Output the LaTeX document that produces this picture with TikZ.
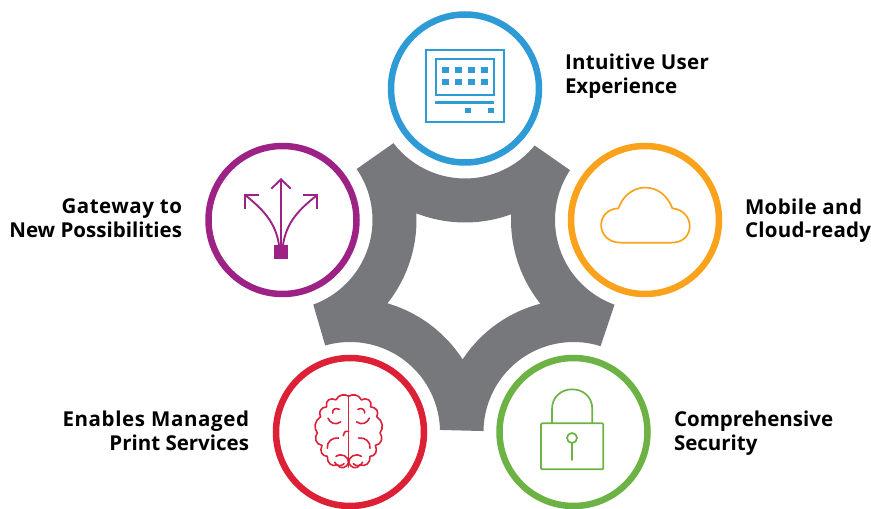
\documentclass[tikz,border=0pt]{standalone}
\usepackage{fontspec}
\usetikzlibrary{calc}
\setmainfont{Open Sans}
\definecolor{ringblue}{HTML}{2E9AD6}
\definecolor{ringorange}{HTML}{FAA21B}
\definecolor{ringgreen}{HTML}{6CB244}
\definecolor{ringred}{HTML}{DC2035}
\definecolor{ringpurple}{HTML}{9C2385}
\definecolor{hubgray}{HTML}{77787B}
\newcommand{\wider}[1]{\addfontfeature{LetterSpace=#1}}
\tikzset{
  ring/.style={circle,draw=#1,line width=6.5pt,minimum size=148pt,inner sep=0pt,outer sep=0pt},
  caption/.style={font=\fontsize{20.5}{24}\selectfont\bfseries,text=black,inner sep=0pt,outer sep=0pt},
  icon/.style={line width=1.7pt,line cap=round,line join=round},
  brainline/.style={line width=1.6pt,line cap=round,line join=round,draw=ringred},
}
\newcommand{\halfbrain}{%
  \draw[brainline]
   (116,18) .. controls (105,12) and (86,12) .. (78,28)
   .. controls (62,20) and (44,30) .. (50,47)
   .. controls (32,48) and (24,62) .. (32,74)
   .. controls (14,84) and (10,105) .. (22,118)
   .. controls (12,130) and (16,150) .. (36,152)
   .. controls (28,168) and (36,182) .. (52,182)
   .. controls (50,200) and (66,212) .. (82,205)
   .. controls (90,218) and (112,216) .. (116,196);
  \draw[brainline] (88,54) .. controls (78,48) and (66,54) .. (68,64);
  \draw[brainline] (54,78) .. controls (60,92) and (78,98) .. (92,88);
  \draw[brainline] (52,160) .. controls (50,142) and (66,130) .. (86,132);
  \draw[brainline] (78,182) .. controls (96,172) and (114,182) .. (116,198);
  \draw[brainline] (74,198) .. controls (80,210) and (94,210) .. (102,202);
}
\begin{document}
\begin{tikzpicture}[x=1pt,y=1pt]
\useasboundingbox (0,0) rectangle (871,509);
% centres
\coordinate (cb) at (465,420.5);
\coordinate (co) at (645,289);
\coordinate (cg) at (573.5,77);
\coordinate (cr) at (350,77);
\coordinate (cp) at (282.5,289);
% hub
\fill[hubgray,even odd rule]
  ($(cb)+(217.4:90)$) arc[start angle=217.4,end angle=320.7,radius=90]
  -- ($(co)+(146.4:90)$) arc[start angle=146.4,end angle=250.2,radius=90]
  -- ($(cg)+(72.5:90)$) arc[start angle=72.5,end angle=179.4,radius=90]
  -- ($(cr)+(1.3:90)$) arc[start angle=1.3,end angle=106,radius=90]
  -- ($(cp)+(-70:90)$) arc[start angle=-70,end angle=34.5,radius=90]
  -- cycle
  ($(cb)+(248.8:134)$) arc[start angle=248.8,end angle=290.1,radius=134]
  -- ($(co)+(177.6:134)$) arc[start angle=177.6,end angle=218.8,radius=134]
  -- ($(cg)+(104.7:132.5)$) arc[start angle=104.7,end angle=146.9,radius=132.5]
  -- ($(cr)+(32.5:134)$) arc[start angle=32.5,end angle=74.1,radius=134]
  -- ($(cp)+(-38.6:134)$) arc[start angle=-38.6,end angle=2.9,radius=134]
  -- cycle;
% rings
\node[ring=ringblue] (blue) at (cb) {};
\node[ring=ringorange] (orange) at (co) {};
\node[ring=ringgreen] (green) at (cg) {};
\node[ring=ringred] (red) at (cr) {};
\node[ring=ringpurple] (purple) at (cp) {};
% captions
\node[caption,anchor=base west] (t1) at (565,439) {\wider{1.5}Intuitive User};
\node[caption,anchor=base west] (t1b) at (565,415.5) {Experience};
\node[caption,anchor=base west] (t2) at (745,294) {\wider{2}Mobile and};
\node[caption,anchor=base west] (t2b) at (745,271) {\wider{1.5}Cloud-ready};
\node[caption,anchor=base west] (t3) at (674,82) {Comprehensive};
\node[caption,anchor=base west] (t3b) at (674,58) {Security};
\node[caption,anchor=base east] (t4) at (249,82) {\wider{3}Enables Managed};
\node[caption,anchor=base east] (t4b) at (249,58) {Print Services};
\node[caption,anchor=base east] (t5) at (182,295.5) {\wider{2.5}Gateway to};
\node[caption,anchor=base east] (t5b) at (182,271.5) {New Possibilities};
% monitor icon
\begin{scope}[shift={(385,499)},x=.33333pt,y=-.33333pt]
  \draw[ringblue,line width=1.9pt] (124,121) rectangle (356,336);
  \draw[ringblue,line width=2.2pt] (153,147) rectangle (326,256);
  \foreach \px in {171,211,250,288}{
    \fill[ringblue] (\px,172) rectangle +(20,16);
    \fill[ringblue] (\px,207) rectangle +(20,17);
  }
  \fill[ringblue] (150,272) rectangle (327,282);
  \fill[ringblue] (241,294) rectangle (258,309);
  \fill[ringblue] (310,294) rectangle (327,309);
\end{scope}
% arrows icon
\begin{scope}[shift={(205,369)},x=.33333pt,y=-.33333pt]
  \fill[ringpurple] (208,315) rectangle (248,356);
  \draw[ringpurple,line width=1.9pt] (228,315) -- (228,118);
  \draw[ringpurple,line width=1.9pt] (199,146) -- (228,118) -- (257,146);
  \draw[ringpurple,line width=1.9pt] (222,315) .. controls (212,245) and (170,205) .. (120,165);
  \draw[ringpurple,line width=1.9pt] (163,165) -- (120,165) -- (120,208);
  \draw[ringpurple,line width=1.9pt] (234,315) .. controls (244,245) and (286,205) .. (337,165);
  \draw[ringpurple,line width=1.9pt] (294,165) -- (337,165) -- (337,208);
\end{scope}
% brain icon
\begin{scope}[shift={(310,119.4)},x=.33333pt,y=-.3667pt]
  \draw[brainline] (116,16) -- (116,212);
  \draw[brainline] (100,126) .. controls (102,114) and (110,110) .. (116,114);
  \halfbrain
\end{scope}
\begin{scope}[shift={(387.33,119.4)},x=-.33333pt,y=-.3667pt]
  \halfbrain
\end{scope}
% lock icon
\begin{scope}[shift={(495,157)},x=.33333pt,y=-.33333pt]
  \draw[icon,draw=ringgreen,rounded corners=1pt] (138,214) rectangle (325,352);
  \draw[icon,draw=ringgreen] (171,214) -- (171,172) .. controls (171,92) and (292,92) .. (292,172) -- (292,214);
  \draw[icon,draw=ringgreen] (231,258) circle[radius=15];
  \draw[icon,draw=ringgreen] (231,273) -- (231,324);
\end{scope}
% cloud icon
\begin{scope}[shift={(565,369)},x=.33333pt,y=-.33333pt]
  \draw[icon,draw=ringorange] (168,308) -- (320,308)
    .. controls (392,308) and (392,212) .. (322,205)
    .. controls (292,122) and (190,122) .. (160,205)
    .. controls (90,208) and (90,308) .. (168,308) -- cycle;
\end{scope}
\end{tikzpicture}
\end{document}
